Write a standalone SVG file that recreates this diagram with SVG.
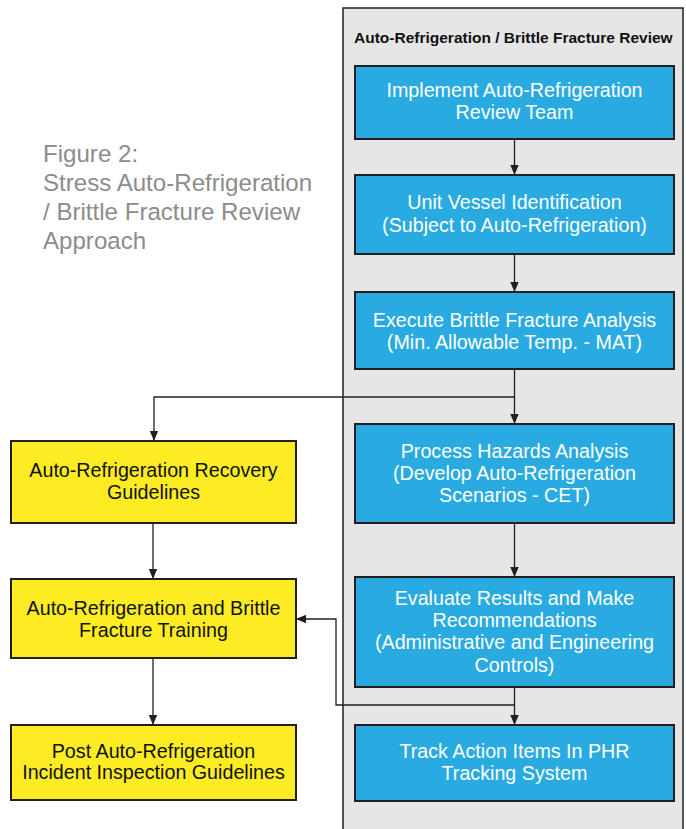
<svg xmlns="http://www.w3.org/2000/svg" width="686" height="829" viewBox="0 0 686 829">
<style>
.panel{fill:#e6e6e6;stroke:#231f20;stroke-width:1.5}
.blue{fill:#29abe2;stroke:#231f20;stroke-width:2}
.yellow{fill:#fcec21;stroke:#231f20;stroke-width:2}
.bt{font-family:"Liberation Sans",Arial,sans-serif;font-size:19.7px;fill:#ffffff;text-anchor:middle}
.yt{font-family:"Liberation Sans",Arial,sans-serif;font-size:19.7px;fill:#111111;text-anchor:middle}
.title{font-family:"Liberation Sans",Arial,sans-serif;font-size:24.1px;fill:#8c8c8c}
.hdr{font-family:"Liberation Sans",Arial,sans-serif;font-size:15.5px;font-weight:bold;fill:#111111}
.conn{fill:none;stroke:#231f20;stroke-width:1.3}
</style>
<defs>
<marker id="ah" markerUnits="userSpaceOnUse" markerWidth="10" markerHeight="10" refX="10" refY="5" orient="auto">
<path d="M0,0.8 L10,5 L0,9.2 Z" fill="#231f20"/>
</marker>
</defs>
<rect fill="#ffffff" x="0" y="0" width="686" height="829"/>
<g id="title">
<text class="title" x="43" y="162">Figure 2:</text>
<text class="title" x="43" y="191">Stress Auto-Refrigeration</text>
<text class="title" x="43" y="220">/ Brittle Fracture Review</text>
<text class="title" x="43" y="249">Approach</text>
</g>
<g id="panel">
<rect class="panel" x="343" y="8" width="340" height="840"/>
<text class="hdr" x="354" y="43">Auto-Refrigeration / Brittle Fracture Review</text>
</g>
<g id="connectors">
<path class="conn" d="M514.5,139 V175" marker-end="url(#ah)"/>
<path class="conn" d="M514.5,254 V292" marker-end="url(#ah)"/>
<path class="conn" d="M514.5,369 V424" marker-end="url(#ah)"/>
<path class="conn" d="M514.5,397 H154 V441" marker-end="url(#ah)"/>
<path class="conn" d="M514.5,523 V577" marker-end="url(#ah)"/>
<path class="conn" d="M514.5,687 V725" marker-end="url(#ah)"/>
<path class="conn" d="M514.5,705 H336 V619 H296" marker-end="url(#ah)"/>
<path class="conn" d="M153,523 V579" marker-end="url(#ah)"/>
<path class="conn" d="M153,658 V725" marker-end="url(#ah)"/>
</g>
<g id="b1">
<rect class="blue" x="355" y="66" width="319" height="73"/>
<text class="bt" x="514.5" y="97">Implement Auto-Refrigeration</text>
<text class="bt" x="514.5" y="119">Review Team</text>
</g>
<g id="b2">
<rect class="blue" x="355" y="175" width="319" height="79"/>
<text class="bt" x="514.5" y="209">Unit Vessel Identification</text>
<text class="bt" x="514.5" y="232">(Subject to Auto-Refrigeration)</text>
</g>
<g id="b3">
<rect class="blue" x="355" y="292" width="319" height="77"/>
<text class="bt" x="514.5" y="327">Execute Brittle Fracture Analysis</text>
<text class="bt" x="514.5" y="349">(Min. Allowable Temp. - MAT)</text>
</g>
<g id="b4">
<rect class="blue" x="355" y="424" width="319" height="99"/>
<text class="bt" x="514.5" y="458">Process Hazards Analysis</text>
<text class="bt" x="514.5" y="480">(Develop Auto-Refrigeration</text>
<text class="bt" x="514.5" y="502">Scenarios - CET)</text>
</g>
<g id="b5">
<rect class="blue" x="355" y="577" width="319" height="110"/>
<text class="bt" x="514.5" y="605">Evaluate Results and Make</text>
<text class="bt" x="514.5" y="627">Recommendations</text>
<text class="bt" x="514.5" y="649">(Administrative and Engineering</text>
<text class="bt" x="514.5" y="672">Controls)</text>
</g>
<g id="b6">
<rect class="blue" x="355" y="725" width="319" height="76"/>
<text class="bt" x="514.5" y="758">Track Action Items In PHR</text>
<text class="bt" x="514.5" y="780">Tracking System</text>
</g>
<g id="y1">
<rect class="yellow" x="11" y="441" width="285" height="82"/>
<text class="yt" x="153.5" y="477">Auto-Refrigeration Recovery</text>
<text class="yt" x="153.5" y="499">Guidelines</text>
</g>
<g id="y2">
<rect class="yellow" x="11" y="579" width="285" height="79"/>
<text class="yt" x="153.5" y="615">Auto-Refrigeration and Brittle</text>
<text class="yt" x="153.5" y="637">Fracture Training</text>
</g>
<g id="y3">
<rect class="yellow" x="11" y="725" width="285" height="75"/>
<text class="yt" x="153.5" y="758">Post Auto-Refrigeration</text>
<text class="yt" x="153.5" y="779">Incident Inspection Guidelines</text>
</g>
</svg>
